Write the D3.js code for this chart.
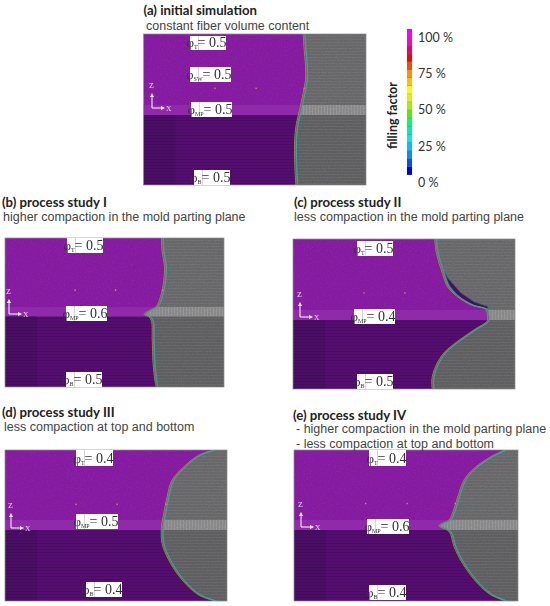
<!DOCTYPE html>
<html><head><meta charset="utf-8">
<script src="https://cdn.jsdelivr.net/npm/d3@7"></script>
<style>html,body{margin:0;padding:0;background:#fff}svg{display:block}</style>
</head><body><div id="c"></div>
<script>
// ---- data: flow-front positions, x = % of part length, depth = % from top surface
const frontA=[[72.2,0],[72.6,8.4],[73.3,21.6],[73.3,30.5],[72.2,39.3],[70.6,50.4],[69.2,59.2],[68.4,70],[68.4,83.4],[68.9,100]];
const frontB=[[71.9,0],[72.2,8.3],[73.3,19.4],[73,28.3],[71.5,39.4],[69.5,46],[66.2,48.8],[64,51.3],[66.2,52.9],[67.4,56.2],[67.7,68.5],[68.1,84.1],[68.9,95.3],[69.5,100]];
const frontC=[[64.3,0],[65.1,9.5],[67.8,22.9],[70,31.7],[74.5,38.4],[80.6,43.9],[87.5,47.2],[88,50.6],[88,54.4],[82,60.6],[74.5,68.3],[68.4,76],[64.7,84.9],[63,93.8],[63.2,100]];
const frontD=[[94.5,0],[87.7,3.5],[81.7,10.2],[75.7,20],[73.5,31],[72,42],[70.9,52],[71.2,61.8],[74.2,72.8],[80.2,86],[87.7,96],[95.2,100]];
const frontE=[[94.6,0],[88.4,4.4],[80.9,12.1],[76.4,19.8],[73.4,31.9],[71.2,41.9],[69.7,46.3],[65.2,50.2],[69.7,54],[71.9,63.9],[75.6,74.9],[82.3,88.1],[88.2,95.8],[94.9,100]];
const voidC=[[66.7,18],[69.7,26],[75.7,36],[81.7,42],[87.7,45],[87.7,47.2],[80.6,43.9],[74.5,38.4],[70.5,31]];
const sensorsA=[[32.1,36],[50.6,36],[72.2,36]];
const sensorsB=[[32,35],[50.5,35],[72,35]];
const sensorsC=[[32,36],[50.4,36]];
const sensorsD=[[32,36],[50.5,36],[72.5,36]];
const sensorsE=[[32,35.5],[50.5,35.5],[72,35.5]];
const titles=["(a) initial simulation","(b) process study I","(c) process study II","(d) process study III","(e) process study IV"];
const subtitles=[["constant fiber volume content"],["higher compaction in the mold parting plane"],["less compaction in the mold parting plane"],["less compaction at top and bottom"],["- higher compaction in the mold parting plane","- less compaction at top and bottom"]];
const fronts=[frontA,frontB,frontC,frontD,frontE];
const sensors=[sensorsA,sensorsB,sensorsC,sensorsD,sensorsE];
const labelSubs=[["T","SW","MP","B"],["T","MP","B"],["T","MP","B"],["T","MP","B"],["T","MP","B"]];
const labelVals=[[0.5,0.5,0.5,0.5],[0.5,0.6,0.5],[0.5,0.4,0.5],[0.4,0.5,0.4],[0.4,0.6,0.4]];
const barColors=["#0000e8","#0050ff","#0090ff","#00c0ff","#00eaf0","#00f0a8","#00ff70","#50f000","#a0f000","#e0f000","#ffff00","#ffc000","#ff9000","#f05000","#ff0000","#e80070","#ff00c8","#f000ff"];
const barTicks=["0 %","25 %","50 %","75 %","100 %"];
const fillingValues=[0,25,50,75,100];

// ---- layout
const W=550,H=606;
const panels=[
 {x:143.5,y:34,w:222.5,h:151,split:115,band:105,titleX:143.5,titleY:15,subX:146,subY:30,axX:152,axY:108,
  boxes:[[190,36,36,14],[190,67,41,15],[191,102,41,15],[194,170,36,15]]},
 {x:5,y:238,w:219,h:149,split:316.5,band:307,titleX:2,titleY:207,subX:3,subY:221,axX:9,axY:314,
  boxes:[[67,238,36,15],[66,306,41,15],[66,372,36,15]]},
 {x:293,y:239,w:222,h:150,split:320,band:310,titleX:294,titleY:207,subX:294,subY:221,axX:300,axY:317,
  boxes:[[357,241,36,15],[354,309,41,15],[357,374,36,15]]},
 {x:5,y:450,w:222,h:151,split:530,band:520,titleX:2,titleY:416.5,subX:4,subY:431,axX:11,axY:528,
  boxes:[[76,450,37,16],[76,514,42,15],[86,582,36,15]]},
 {x:294,y:450,w:224,h:151,split:530,band:520,titleX:293,titleY:420,subX:296,subY:433,axX:301,axY:527,
  boxes:[[369,450,37,16],[367,519,42,15],[369,585,37,15]]}
];
const svg=d3.select("#c").append("svg").attr("width",W).attr("height",H).attr("viewBox",[0,0,W,H]);
const defs=svg.append("defs");
const soft=defs.append("filter").attr("id","soft").attr("x","-5%").attr("y","-5%").attr("width","110%").attr("height","110%");
soft.append("feGaussianBlur").attr("stdDeviation",0.5);
const noise=defs.append("filter").attr("id","noise").attr("x",0).attr("y",0).attr("width","100%").attr("height","100%");
noise.append("feTurbulence").attr("type","fractalNoise").attr("baseFrequency",0.7).attr("numOctaves",2).attr("seed",4);
noise.append("feColorMatrix").attr("values","0 0 0 0 0  0 0 0 0 0  0 0 0 0 0  0.9 0 0 0 -0.28");
const stripe=(id,col,op,step)=>{const p=defs.append("pattern").attr("id",id).attr("width",6).attr("height",step).attr("patternUnits","userSpaceOnUse");
 p.append("rect").attr("width",6).attr("height",1).attr("fill",col).attr("opacity",op);};
stripe("hdark","#000",0.14,3);stripe("hgray","#fff",0.05,3);
const vp=defs.append("pattern").attr("id","vgrid").attr("width",3).attr("height",4).attr("patternUnits","userSpaceOnUse");
vp.append("rect").attr("width",1).attr("height",4).attr("fill","#fff").attr("opacity",0.1);

const frontColors=[["#b8b820",0.8,-1.0],["#c84030",0.7,-0.5],["#30b040",0.8,0.2],["#20b0c8",0.9,0.9]];

panels.forEach((p,i)=>{
 const x=d3.scaleLinear().domain([0,100]).range([p.x,p.x+p.w]);
 const y=d3.scaleLinear().domain([0,100]).range([p.y,p.y+p.h]);
 const g=svg.append("g").attr("filter","url(#soft)");
 const cid="clip"+i;
 defs.append("clipPath").attr("id",cid).append("rect").attr("x",p.x).attr("y",p.y).attr("width",p.w).attr("height",p.h);
 const pg=g.append("g").attr("clip-path","url(#"+cid+")");
 const front=fronts[i];
 const curve=d3.curveCatmullRom.alpha(0.5);
 const fillClipId="fill"+i;
 const area=d3.area().x0(x(0)).x1(d=>x(d[0])).y(d=>y(d[1])).curve(curve);
 defs.append("clipPath").attr("id",fillClipId).append("path").attr("d",area(front));
 // unfilled gray part
 pg.append("rect").attr("x",p.x).attr("y",p.y).attr("width",p.w).attr("height",p.h).attr("fill","#6c6c6e");
 pg.append("rect").attr("x",p.x).attr("y",p.split).attr("width",p.w).attr("height",p.y+p.h-p.split).attr("fill","#636365");
 pg.append("rect").attr("x",p.x).attr("y",p.y).attr("width",p.w).attr("height",p.h).attr("fill","url(#hgray)");
 pg.append("rect").attr("x",p.x).attr("y",p.band).attr("width",p.w).attr("height",p.split-p.band).attr("fill","#8e8e8e");
 pg.append("rect").attr("x",p.x).attr("y",p.band).attr("width",p.w).attr("height",p.split-p.band).attr("fill","url(#vgrid)");
 pg.append("rect").attr("x",p.x).attr("y",p.y).attr("width",p.w).attr("height",p.h).attr("filter","url(#noise)").attr("opacity",0.18);
 // filled part
 const fg=pg.append("g").attr("clip-path","url(#"+fillClipId+")");
 fg.append("rect").attr("x",p.x).attr("y",p.y).attr("width",p.w).attr("height",p.split-p.y).attr("fill","#8a20a6");
 fg.append("rect").attr("x",p.x).attr("y",p.band).attr("width",p.w).attr("height",p.split-p.band).attr("fill","#9029aa");
 fg.append("rect").attr("x",p.x).attr("y",p.split).attr("width",p.w).attr("height",p.y+p.h-p.split).attr("fill","#551072");
 fg.append("rect").attr("x",p.x).attr("y",p.split).attr("width",32).attr("height",p.y+p.h-p.split).attr("fill","#4b1066");
 fg.append("rect").attr("x",p.x).attr("y",p.split).attr("width",p.w).attr("height",p.y+p.h-p.split).attr("fill","url(#hdark)");
 fg.append("rect").attr("x",p.x).attr("y",p.y).attr("width",p.w).attr("height",p.band-p.y).attr("filter","url(#noise)").attr("opacity",0.16);
 // void in study II
 if(i===2){
  const v=d3.line().x(d=>x(d[0])).y(d=>y(d[1])).curve(d3.curveLinearClosed);
  pg.append("path").attr("d",v(voidC)).attr("fill","#4a0f62").attr("stroke","#107070").attr("stroke-width",0.6);
 }
 // front colours (filling-factor transition)
 const line=d3.line().x(d=>x(d[0])).y(d=>y(d[1])).curve(curve);
 frontColors.forEach(([c,sw,dx])=>{
  pg.append("path").attr("d",line(front)).attr("transform","translate("+dx+",0)").attr("fill","none").attr("stroke",c).attr("stroke-width",sw);
 });
 // sensor dots
 pg.selectAll("circle.s").data(sensors[i]).join("circle").attr("cx",d=>x(d[0])).attr("cy",d=>y(d[1])).attr("r",0.8).attr("fill","#ee8844");
 // panel outline
 g.append("rect").attr("x",p.x).attr("y",p.y).attr("width",p.w).attr("height",p.h).attr("fill","none").attr("stroke","#8a8a8a").attr("stroke-width",0.7);
 // axes triad
 const tri=svg.append("g").attr("filter","url(#soft)");
 const ax=p.axX,ay=p.axY;
 tri.append("path").attr("d",`M${ax},${ay-13}V${ay}H${ax+10}`).attr("fill","none").attr("stroke","#fff").attr("stroke-width",1);
 tri.append("path").attr("d",`M${ax-2},${ay-11}L${ax},${ay-15}L${ax+2},${ay-11}Z`).attr("fill","#fff");
 tri.append("path").attr("d",`M${ax+9},${ay-2}L${ax+13},${ay}L${ax+9},${ay+2}Z`).attr("fill","#fff");
 tri.append("text").attr("x",ax+14).attr("y",ay+3).text("x").attr("font-family","Liberation Serif").attr("font-size",11).attr("fill","#d8c8e0");
 tri.append("text").attr("x",ax-3).attr("y",ay-20).text("z").attr("font-family","Liberation Serif").attr("font-size",11).attr("fill","#d8c8e0");
 // labels: one text per label, so symbol, subscript and value never collide
 p.boxes.forEach((b,j)=>{
  const lg=svg.append("g").attr("filter","url(#soft)");
  lg.append("rect").attr("x",b[0]).attr("y",b[1]).attr("width",b[2]).attr("height",b[3]).attr("fill","#fff");
  lg.append("rect").attr("x",b[0]+8).attr("y",b[1]).attr("width",0.6).attr("height",b[3]).attr("fill","#bbb");
  const t=lg.append("text").attr("x",b[0]+b[2]+0.5).attr("y",b[1]+b[3]-3).attr("text-anchor","end")
    .attr("font-family","Liberation Serif").attr("font-size",14).attr("fill","#333");
  t.append("tspan").attr("font-size",13).text("φ");
  t.append("tspan").attr("dy",2).attr("font-size",6).text(labelSubs[i][j]);
  t.append("tspan").attr("dy",-2).text("= "+labelVals[i][j].toFixed(1));
 });
 // titles
 svg.append("text").attr("x",p.titleX).attr("y",p.titleY).text(titles[i]).attr("font-family","Lato").attr("font-weight",700).attr("font-size",13.2).attr("fill","#222");
 subtitles[i].forEach((s,k)=>{
  svg.append("text").attr("x",p.subX).attr("y",p.subY+k*14.5).text(s).attr("font-family","Liberation Sans").attr("font-size",12.5).attr("fill","#444");
 });
});

// colour bar
const barX=407,barW=5,barTop=37,barBottom=182.5;
const barScale=d3.scaleLinear().domain([0,100]).range([barBottom,barTop]);
const bandStep=d3.scaleBand().domain(d3.range(barColors.length)).range([barBottom,barTop]);
svg.append("g").selectAll("rect").data(barColors).join("rect")
 .attr("x",barX).attr("width",barW).attr("y",(d,k)=>bandStep(k)-bandStep.bandwidth()).attr("height",bandStep.bandwidth()+0.5).attr("fill",d=>d);
svg.append("g").selectAll("rect").data(d3.range(1,barColors.length)).join("rect")
 .attr("x",barX).attr("width",barW).attr("height",0.6).attr("y",k=>barBottom-(barBottom-barTop)*k/barColors.length).attr("fill","#555").attr("opacity",0.4);
svg.append("g").selectAll("text").data(fillingValues).join("text")
 .attr("x",418).attr("y",v=>barScale(v)+4.5).text((v,k)=>barTicks[k])
 .attr("font-family","Lato").attr("font-size",12.5).attr("fill","#333");
svg.append("text").attr("transform","translate(397,149) rotate(-90)").text("filling factor")
 .attr("font-family","Lato").attr("font-weight",700).attr("font-size",12.5).attr("fill","#222");
</script></body></html>
